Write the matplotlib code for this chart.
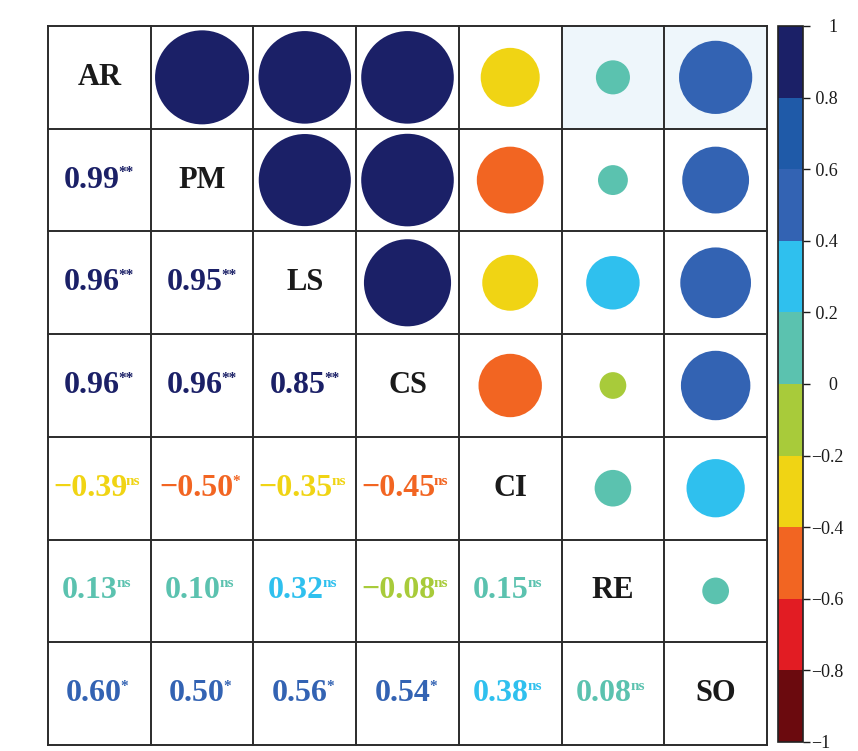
"""Correlation matrix: circles above the diagonal, coefficients below."""

import matplotlib

matplotlib.use("Agg")
import matplotlib.pyplot as plt
import numpy as np
from matplotlib.colors import BoundaryNorm, ListedColormap
from matplotlib.colorbar import ColorbarBase
from matplotlib.patches import Circle, Rectangle

VARIABLES = ["AR", "PM", "LS", "CS", "CI", "RE", "SO"]

# lower triangle, row by row (row i holds r with columns 0..i-1)
R_LOWER = [
    [],
    [0.99],
    [0.96, 0.95],
    [0.96, 0.96, 0.85],
    [-0.39, -0.50, -0.35, -0.45],
    [0.13, 0.10, 0.32, -0.08, 0.15],
    [0.60, 0.50, 0.56, 0.54, 0.38, 0.08],
]
SIG_LOWER = [
    [],
    ["**"],
    ["**", "**"],
    ["**", "**", "**"],
    ["ns", "*", "ns", "ns"],
    ["ns", "ns", "ns", "ns", "ns"],
    ["*", "*", "*", "*", "ns", "ns"],
]

BIN_EDGES = np.round(np.linspace(-1, 1, 11), 1)
BIN_COLORS = [
    "#6b0a0e", "#e21c23", "#f26522", "#f0d414", "#a8cb3a",
    "#5bc2af", "#2fc0ee", "#3363b3", "#1f5aa8", "#1b2067",
]
CBAR_TICKS = np.round(np.linspace(-1, 1, 11), 1)

# faint tint seen behind two cells in the top row
TINTED_CELLS = [(0, 5), (0, 6)]

plt.rcParams["font.family"] = ["Liberation Serif", "DejaVu Serif"]


def bin_color(r):
    idx = int(np.searchsorted(BIN_EDGES, r, side="left")) - 1
    idx = min(max(idx, 0), len(BIN_COLORS) - 1)
    return BIN_COLORS[idx]


n = len(VARIABLES)
corr = np.eye(n)
sig = [["" for _ in range(n)] for _ in range(n)]
for i, row in enumerate(R_LOWER):
    for j, val in enumerate(row):
        corr[i, j] = corr[j, i] = val
        sig[i][j] = SIG_LOWER[i][j]

fig = plt.figure(figsize=(8.58, 7.51), dpi=100)
ax = fig.add_axes([48 / 858, 6 / 751, 719 / 858, 719 / 751])
ax.set_xlim(0, n)
ax.set_ylim(n, 0)
ax.set_axis_off()

for (ri, cj) in TINTED_CELLS:
    ax.add_patch(Rectangle((cj, ri), 1, 1, facecolor="#eef6fb", edgecolor="none", zorder=0))

sup_offset = {"**": 0.07, "*": 0.05, "ns": 0.09}

for i in range(n):
    for j in range(n):
        cx, cy = j + 0.5, i + 0.5
        if i == j:
            ax.text(cx, cy, VARIABLES[i], ha="center", va="center",
                    fontsize=22, fontweight="bold", color="#1a1a1a")
        elif j > i:
            r = corr[i, j]
            ax.add_patch(Circle((cx, cy), 0.46 * np.sqrt(abs(r)),
                                facecolor=bin_color(r), edgecolor="none", zorder=2))
        else:
            r = corr[i, j]
            color = bin_color(r)
            label = f"{r:.2f}".replace("-", "\u2212")
            mark = sig[i][j]
            t = ax.text(cx - sup_offset[mark], cy, label, ha="center", va="center",
                        fontsize=23, fontweight="bold", color=color)
            ax.annotate(mark, xy=(1.0, 0.97), xycoords=t, xytext=(-1, 0),
                        textcoords="offset points", ha="left", va="top",
                        fontsize=11, fontweight="bold", color=color)

for k in range(n + 1):
    ax.plot([k, k], [0, n], color="#2b2b2b", linewidth=1.4, zorder=3, clip_on=False)
    ax.plot([0, n], [k, k], color="#2b2b2b", linewidth=1.4, zorder=3, clip_on=False)

cax = fig.add_axes([778 / 858, 9 / 751, 25 / 858, 716 / 751])
cmap = ListedColormap(BIN_COLORS)
norm = BoundaryNorm(BIN_EDGES, cmap.N)
cb = ColorbarBase(cax, cmap=cmap, norm=norm, ticks=CBAR_TICKS, orientation="vertical")
tick_labels = []
for v in CBAR_TICKS:
    if v == 0 or v == 1:
        tick_labels.append(f"    {v:g}")
    elif v > 0:
        tick_labels.append(f" {v:g}")
    else:
        tick_labels.append(f"{v:g}".replace("-", "\u2212"))
cb.set_ticklabels(tick_labels)
cb.outline.set_edgecolor("#222222")
cb.outline.set_linewidth(1.2)
cax.tick_params(labelsize=13, length=5, width=1, direction="out", pad=1, colors="#1a1a1a")

fig.savefig("out.png", dpi=100)
